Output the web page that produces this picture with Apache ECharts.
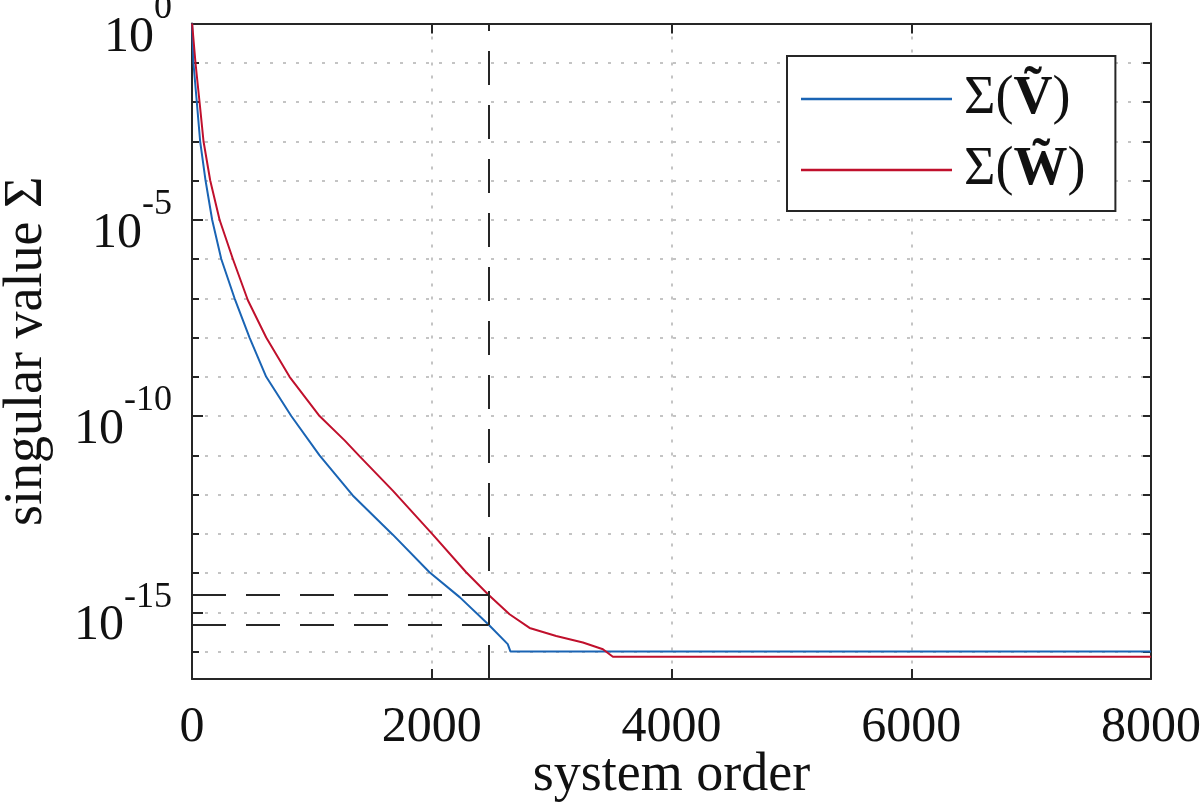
<!DOCTYPE html>
<html>
<head>
<meta charset="utf-8">
<title>singular values</title>
<script src="https://cdn.jsdelivr.net/npm/echarts@6/dist/echarts.min.js"></script>
<style>
  html, body { margin: 0; padding: 0; background: #fff; }
  #chart { width: 1200px; height: 807px; }
</style>
</head>
<body>
<div id="chart"></div>
<script>
// singular value decay
const orderV = [1, 12, 40, 68, 113, 168, 244, 355, 480, 619, 828, 1064, 1341, 1675, 1981, 2235, 2473, 2634, 2657, 8000];
const sigmaV = [1, 1e-1, 1e-2, 1e-3, 1e-4, 1e-5, 1e-6, 1e-7, 1e-8, 1e-9, 1e-10, 1e-11, 9.5e-13, 9.5e-14, 1.05e-14, 2.4e-15, 4.9e-16, 1.55e-16, 1.0e-16, 1.0e-16];

const orderW = [1, 29, 63, 96, 152, 230, 341, 466, 619, 814, 1064, 1273, 1397, 1675, 2009, 2287, 2473, 2649, 2816, 3038, 3261, 3428, 3511, 8000];
const sigmaW = [1, 1e-1, 1e-2, 1e-3, 1e-4, 1e-5, 1e-6, 8.9e-8, 1e-8, 1e-9, 1e-10, 2.4e-11, 9.5e-12, 1.26e-12, 9.5e-14, 1.05e-14, 2.8e-15, 8.9e-16, 4.0e-16, 2.5e-16, 1.7e-16, 1.15e-16, 7.4e-17, 7.4e-17];

const seriesNames = ["Σ(Ṽ)", "Σ(W\u0303)"];
const seriesColors = ["#1a64b4", "#c0102c"];

// chosen order and the two singular values there
const cutOrder = 2473;
const cutLevels = [2.8e-15, 4.9e-16];

const xTicks = [0, 2000, 4000, 6000, 8000];
const yDecades = [1, 1e-1, 1e-2, 1e-3, 1e-4, 1e-5, 1e-6, 1e-7, 1e-8, 1e-9, 1e-10,
  1e-11, 1e-12, 1e-13, 1e-14, 1e-15, 1e-16];
const yLabelled = [1, 1e-5, 1e-10, 1e-15];
const yMin = 2e-17;
const yMax = 1;

const FONT = '"Liberation Serif", "DejaVu Serif", serif';
const INK = "#262626";
const GRID_DOT = { color: "#c4c4c4", width: 2, type: [3, 10] };

function zip(xs, ys) {
  return xs.map((x, i) => [x, ys[i]]);
}

const chart = echarts.init(document.getElementById("chart"), null, { renderer: "canvas" });

const logAxisBase = {
  type: "log",
  logBase: 10,
  min: yMin,
  max: yMax,
  axisLine: { show: true, onZero: false, lineStyle: { color: INK, width: 2 } },
};

const xAxisBase = {
  type: "value",
  min: xTicks[0],
  max: xTicks[xTicks.length - 1],
  interval: xTicks[1] - xTicks[0],
  axisLine: { onZero: false, lineStyle: { color: INK, width: 2 } },
  axisTick: { inside: true, length: 10, lineStyle: { color: INK, width: 2 } },
};

chart.setOption({
  animation: false,
  backgroundColor: "#fff",
  textStyle: { fontFamily: FONT },
  grid: {
    left: 192, right: 49, top: 23.5, bottom: 128,
    containLabel: false,
    outerBoundsMode: "none",
  },
  legend: {
    orient: "vertical",
    left: 787,
    top: 56,
    padding: [16, 30, 14, 14],
    itemGap: 17,
    itemWidth: 151,
    itemHeight: 2.5,
    icon: "rect",
    borderColor: INK,
    borderWidth: 2,
    borderRadius: 0,
    backgroundColor: "#fff",
    data: seriesNames,
    formatter: function (name) {
      return "{n|Σ(}{b|" + name.slice(2, -1) + "}{n|)}";
    },
    textStyle: {
      padding: [0, 0, 0, 7],
      rich: {
        n: { fontFamily: FONT, fontSize: 54, lineHeight: 50, color: "#111" },
        b: { fontFamily: FONT, fontSize: 54, lineHeight: 50, fontWeight: "bold", color: "#111" },
      },
    },
  },
  xAxis: [
    Object.assign({}, xAxisBase, {
      name: "system order",
      nameLocation: "middle",
      nameGap: 70,
      nameMoveOverlap: false,
      nameTextStyle: { fontFamily: FONT, fontSize: 54, color: "#111" },
      axisLabel: {
        margin: 24, fontFamily: FONT, fontSize: 50, color: "#111",
        formatter: (v) => String(v),
      },
      splitLine: { show: true, lineStyle: GRID_DOT },
    }),
    Object.assign({}, xAxisBase, {
      position: "top",
      axisLabel: { show: false },
      splitLine: { show: false },
    }),
  ],
  yAxis: [
    Object.assign({}, logAxisBase, {
      position: "left",
      name: "singular value Σ",
      nameLocation: "middle",
      nameGap: 138,
      nameTextStyle: { fontFamily: FONT, fontSize: 54, color: "#111" },
      axisTick: { inside: true, length: 7, customValues: yDecades, lineStyle: { color: INK, width: 2 } },
      axisLabel: {
        margin: 20,
        padding: [6, 0, 0, 0],
        customValues: yLabelled,
        formatter: function (v) {
          return "{b|10}{s|" + Math.round(Math.log10(v)) + "}";
        },
        rich: {
          b: { fontFamily: FONT, fontSize: 50, lineHeight: 72, verticalAlign: "bottom", color: "#111" },
          s: { fontFamily: FONT, fontSize: 36, lineHeight: 72, verticalAlign: "top", color: "#111" },
        },
      },
      splitLine: { show: true, lineStyle: GRID_DOT },
    }),
    Object.assign({}, logAxisBase, {
      position: "right",
      axisTick: { inside: true, length: 8, customValues: yDecades, lineStyle: { color: INK, width: 2 } },
      axisLabel: { show: false },
      splitLine: { show: false },
    }),
    Object.assign({}, logAxisBase, {
      position: "left",
      axisLine: { show: false },
      axisTick: { inside: true, length: 11, customValues: yLabelled, lineStyle: { color: INK, width: 2 } },
      axisLabel: { show: false },
      splitLine: { show: false },
    }),
  ],
  series: [
    {
      name: seriesNames[0],
      type: "line",
      data: zip(orderV, sigmaV),
      showSymbol: false,
      symbol: "none",
      color: seriesColors[0],
      lineStyle: { color: seriesColors[0], width: 2 },
      z: 3,
      markLine: {
        silent: true,
        symbol: "none",
        label: { show: false },
        lineStyle: { color: INK, width: 2, type: [34, 20] },
        data: [
          { xAxis: cutOrder },
          ...cutLevels.map((lvl) => [{ coord: [0, lvl] }, { coord: [cutOrder, lvl] }]),
        ],
      },
    },
    {
      name: seriesNames[1],
      type: "line",
      data: zip(orderW, sigmaW),
      showSymbol: false,
      symbol: "none",
      color: seriesColors[1],
      lineStyle: { color: seriesColors[1], width: 2 },
      z: 3,
    },
  ],
});

window.addEventListener("resize", () => chart.resize());
</script>
</body>
</html>
